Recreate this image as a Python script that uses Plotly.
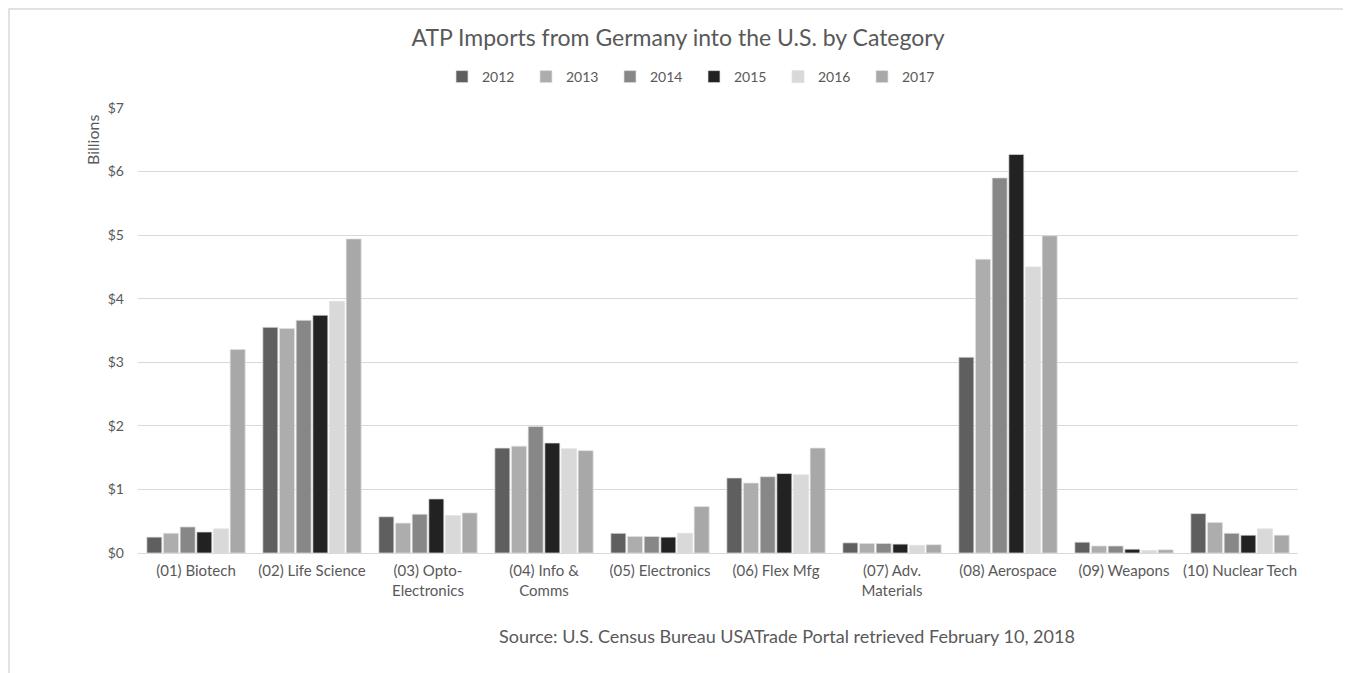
import plotly.graph_objects as go

categories = ["(01) Biotech", "(02) Life Science", "(03) Opto-<br>Electronics", "(04) Info &<br>Comms",
              "(05) Electronics", "(06) Flex Mfg", "(07) Adv.<br>Materials", "(08) Aerospace",
              "(09) Weapons", "(10) Nuclear Tech"]
years = ["2012", "2013", "2014", "2015", "2016", "2017"]
v2012 = [0.25, 3.55, 0.57, 1.65, 0.31, 1.18, 0.16, 3.08, 0.17, 0.62]
v2013 = [0.31, 3.53, 0.47, 1.68, 0.26, 1.10, 0.15, 4.62, 0.11, 0.48]
v2014 = [0.41, 3.66, 0.61, 1.99, 0.26, 1.20, 0.15, 5.90, 0.11, 0.31]
v2015 = [0.33, 3.74, 0.85, 1.73, 0.25, 1.25, 0.14, 6.27, 0.06, 0.28]
v2016 = [0.38, 3.96, 0.59, 1.64, 0.31, 1.23, 0.12, 4.50, 0.04, 0.38]
v2017 = [3.20, 4.94, 0.63, 1.61, 0.73, 1.65, 0.13, 4.99, 0.05, 0.28]
series = [v2012, v2013, v2014, v2015, v2016, v2017]
colors = ["#5f5f5f", "#adadad", "#878787", "#222222", "#d9d9d9", "#a8a8a8"]
y_ticks = [0, 1, 2, 3, 4, 5, 6, 7]
y_ticklabels = ["$0", "$1", "$2", "$3", "$4", "$5", "$6", "$7"]

FONT = "Lato, 'Open Sans', sans-serif"
TXT = "#595959"

fig = go.Figure()
for yr, vals, col in zip(years, series, colors):
    fig.add_trace(go.Bar(name=yr, x=categories, y=vals,
                         marker=dict(color=col, line=dict(color="rgba(225,225,225,0.9)", width=0.8))))

OFF = 8  # default page body margin
W, H = 1343, 665
L, R, T, B = 130, 53, 100, 120
pw, ph = W - L - R, H - T - B

def px_x(x):
    return (x - OFF - L) / pw

def px_y(y):
    return (H - B - (y - OFF)) / ph

fig.update_layout(
    width=W, height=H,
    margin=dict(l=L, r=R, t=T, b=B),
    paper_bgcolor="white", plot_bgcolor="white",
    barmode="group", bargap=0.138, bargroupgap=0.1,
    font=dict(family=FONT, color=TXT, size=14),
    title=dict(text="ATP Imports from Germany into the U.S. by Category",
               x=(678 - OFF) / W, xanchor="center", y=1 - (38 - OFF) / H, yanchor="middle",
               font=dict(family=FONT, size=23, color=TXT)),
    legend=dict(orientation="h", x=px_x(694), xanchor="center", y=px_y(77), yanchor="middle",
                font=dict(family=FONT, size=14, color=TXT), itemwidth=30,
                entrywidth=39, entrywidthmode="pixels",
                traceorder="normal", bgcolor="rgba(0,0,0,0)"),
    xaxis=dict(showline=True, linecolor="#d9d9d9", linewidth=1, ticks="",
               tickfont=dict(family=FONT, size=15, color=TXT), showgrid=False,
               ticklabelstandoff=4),
    yaxis=dict(range=[0, 7], tickvals=y_ticks, ticktext=y_ticklabels, showgrid=True,
               gridcolor="#d9d9d9", gridwidth=1, zeroline=False, ticks="", ticklen=0,
               tickfont=dict(family=FONT, size=14, color=TXT), fixedrange=True,
               ticklabelstandoff=13),
    showlegend=True,
)

fig.add_annotation(text="Billions", xref="paper", yref="paper", x=px_x(92), y=px_y(140),
                   textangle=-90, showarrow=False, font=dict(family=FONT, size=16, color=TXT),
                   xanchor="center", yanchor="middle")
fig.add_annotation(text="Source: U.S. Census Bureau USATrade Portal retrieved February 10, 2018",
                   xref="paper", yref="paper", x=px_x(787), y=px_y(636), showarrow=False,
                   font=dict(family=FONT, size=18, color=TXT), xanchor="center", yanchor="middle")
fig.add_shape(type="rect", xref="paper", yref="paper", x0=px_x(9), x1=px_x(1347), y0=px_y(690), y1=px_y(9),
              line=dict(color="#d9d9d9", width=1.5), fillcolor="rgba(0,0,0,0)", layer="above")

fig.write_html("out.html")
